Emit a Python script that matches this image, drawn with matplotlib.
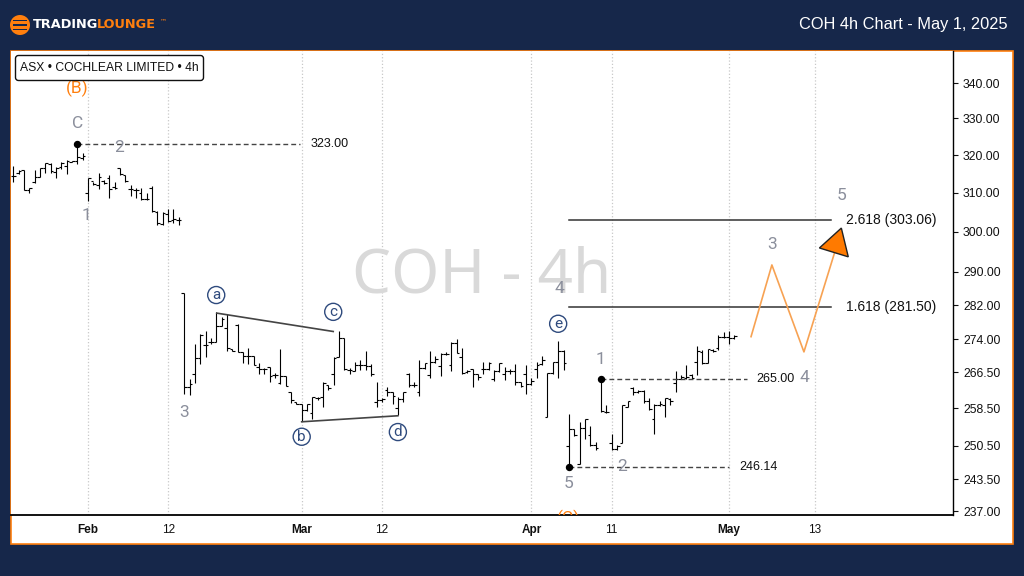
import matplotlib
matplotlib.use('Agg')
import matplotlib.pyplot as plt
from matplotlib.patches import Circle, FancyBboxPatch, Polygon, Rectangle
from matplotlib.transforms import Bbox

plt.rcParams['font.family'] = ['Liberation Sans', 'DejaVu Sans']

NAVY = '#16274a'
ORANGE = '#ff7f0e'
GREY = '#8b8f9c'
CIRCLE = '#2e4a7d'

# 4h bars, index 0 is the Feb tick
first_bar = -14
highs = [317.1, 316, 315.9, 311.3, 316, 316.5, 317.9, 317.9, 316.8, 318.1,
         318.6, 318.5, 323, 320.5, 313.9, 312.7, 315.3, 313.4, 314.7, 312.7,
         316.5, 314.7, 312, 311.3, 311.2, 310, 311.8, 305.2, 305, 305.8,
         305.8, 303.8, 285, 264.9, 272.8, 275.2, 276, 274.2, 280.3, 279.3,
         279.9, 271.8, 277.5, 271, 272, 270.2, 268.5, 267.5, 267.7, 266.4,
         271.8, 265.6, 262.2, 260, 259.4, 259.4, 261, 261, 264.4, 263.7,
         269.9, 275.8, 274.4, 267.4, 268.9, 269.2, 271.3, 268.4, 264.3, 260.8,
         263.2, 262, 261, 262, 266.4, 264.3, 269.3, 268.5, 271.4, 270.2,
         270.9, 271, 273.4, 274, 272, 267, 267.3, 266, 268.9, 268.9,
         267.1, 268.5, 267.6, 267.3, 268.4, 264.4, 268.1, 265.3, 268.8, 270.2,
         266.3, 268.7, 273.5, 271.5, 257.2, 254.1, 255.5, 256.3, 254.7, 251.2,
         265, 259.2, 252.9, 250.7, 259.2, 260.2, 263.3, 262.6, 262.5, 260.8,
         259.4, 260.1, 260.8, 260.8, 266.7, 265.9, 268.1, 266, 272.4, 271.5,
         271.7, 271.8, 274.9, 275.6, 276, 274.9]
lows = [312.9, 315, 310.6, 310, 312.6, 314.2, 315.2, 315.3, 313.9, 316.3,
        315, 318, 317.7, 318.6, 307.8, 312, 310.9, 312.3, 308.6, 311,
        314.7, 312.9, 309.1, 308.7, 308.1, 308, 305, 301.8, 301.6, 302.5,
        302.3, 301.6, 261.7, 261.4, 264, 268.4, 269.9, 272.8, 273.4, 277,
        271.4, 271.3, 271, 268.5, 268.4, 268.1, 266, 266.2, 264.4, 265.3,
        263.9, 263.5, 259.7, 259.4, 255.8, 257.9, 256.1, 260.4, 258.8, 262.6,
        263.7, 269.9, 267.1, 266, 266.7, 267.1, 267, 265.6, 258.8, 260,
        261.2, 259.4, 257, 260, 263.3, 263.2, 261.2, 267.3, 265.1, 268.5,
        265.7, 270.3, 266.8, 270.9, 266.1, 266.4, 263.2, 264.8, 266, 267,
        264.6, 266.6, 264.8, 266.2, 263.7, 263.3, 261.7, 263.7, 265.3, 268.1,
        256.6, 266.2, 265.1, 267.1, 246.14, 252.5, 246.7, 251.9, 250.4, 249.5,
        257.7, 257.4, 249.5, 249.6, 251.1, 258.7, 261.4, 261.9, 259.7, 258.1,
        252.9, 259, 256.6, 259.2, 262.2, 264.9, 264.9, 264.9, 265.9, 268.4,
        268.5, 271, 271.5, 274.2, 272.8, 274]
opens = [314.5, 315.2, 315.9, 310.6, 312.8, 314.2, 316.4, 317.5, 315.5, 316.8,
         317, 318.2, 318.4, 319.3, 309.9, 313, 312, 313.2, 313.8, 311.5,
         316.4, 314.7, 311, 310.8, 309.8, 308.4, 311.2, 305, 301.9, 304.5,
         303, 303, 284.9, 263.2, 266.2, 269.7, 272.6, 273.4, 273.4, 277,
         276.7, 271.8, 277.4, 271, 270.2, 270.2, 267.7, 267.2, 267.7, 265.9,
         264, 265.6, 262.2, 260, 259.4, 258.1, 257.6, 260.8, 260.9, 263.7,
         266.2, 269.9, 274.2, 267.1, 266.7, 268.1, 268.1, 268, 260, 260.3,
         262.6, 262, 258.6, 260.6, 266.2, 263.7, 262.2, 267.5, 265.9, 268.9,
         267.9, 270.6, 268.1, 273.2, 269.9, 266.6, 267.3, 266.1, 267.3, 267.3,
         264.9, 266.8, 266.2, 266.8, 266.8, 264.4, 266.2, 263.9, 267.3, 268.4,
         256.6, 266.3, 268.7, 271.3, 250.4, 254, 246.7, 254.3, 252.7, 250.7,
         264.9, 257.8, 251.1, 249.8, 251.1, 258.9, 263, 262.1, 262.4, 260.1,
         256.3, 259.2, 259.2, 260.6, 264, 265, 265.3, 265.9, 268.8, 271,
         268.5, 271.5, 271.9, 274.6, 274.6, 274.2]
closes = [314.5, 315.6, 310.7, 311.2, 314, 316.4, 317.8, 315.8, 316.5, 317.9,
          318.5, 318.5, 319.5, 319.8, 313.8, 312.2, 314, 312.5, 311, 311.3,
          314.8, 313, 311, 310.8, 308.4, 308.3, 305.2, 302.2, 304.8, 302.8,
          303.2, 303, 263.2, 263.9, 269.7, 275.1, 272.6, 273.4, 277, 278.7,
          272, 271.4, 271, 270.2, 270.2, 268.1, 267.2, 267.2, 265.6, 265.9,
          265.6, 263.5, 260.3, 259.5, 258.1, 259.4, 260.9, 260.8, 264.2, 263,
          269.7, 274.4, 267.3, 267, 268.1, 268.1, 268, 266, 260.3, 260.6,
          262.1, 261.2, 260.6, 262, 263.7, 263.7, 267.5, 268.5, 268.9, 269.5,
          270.6, 270.6, 273.2, 270.9, 266.4, 266.7, 266.1, 265.5, 267.3, 268.5,
          266.8, 268.5, 266.8, 266.8, 264.4, 263.4, 263.9, 264.6, 268.1, 269.3,
          266.3, 268.7, 271.3, 268.5, 254, 252.7, 254.3, 256.1, 250.7, 250,
          257.9, 257.8, 249.8, 250.4, 259.2, 260.1, 262.1, 262.4, 260.1, 258.4,
          259.2, 259.4, 260.8, 260.2, 265, 265.5, 265.5, 265.1, 271.4, 268.5,
          271.7, 271.4, 274.6, 274.6, 274.2, 274.8]

y_ticks = [340, 330, 320, 310, 300, 290, 282, 274, 266.5, 258.5, 250.5, 243.5, 237]
x_ticks = [0, 15, 40, 55, 83, 98, 120, 136]
x_labels = ['Feb', '12', 'Mar', '12', 'Apr', '11', 'May', '13']
months = ['Feb', 'Mar', 'Apr', 'May']

# wave counts: label, bar index, price
grey_waves = [('C', -2, 328.5), ('2', 5.8, 321.9), ('1', -0.2, 304), ('3', 18, 257.5),
              ('4', 88.2, 285.9), ('1', 96, 269.3), ('2', 100, 246.1), ('5', 89.9, 242.6),
              ('3', 128, 296.7), ('4', 134, 265.4), ('5', 141.1, 309.2)]
circled_waves = [('a', 24, 284.4), ('b', 40, 252.4), ('c', 45.9, 280.4),
                 ('d', 58, 253.4), ('e', 88, 277.6)]
orange_waves = [('(B)', -2, 338.6), ('(C)', 89.9, 235.6)]

# price levels: bar start, bar end, price, text, text start
dashed_levels = [(-2, 39.7, 323, '323.00', 41.7),
                 (96, 123.4, 265, '265.00', 125),
                 (90, 120, 246.14, '246.14', 121.9)]
fib_levels = [(303.06, '2.618 (303.06)'), (281.5, '1.618 (281.50)')]
fib_start, fib_end, fib_text_x = 90, 139.1, 141.9

triangle_lines = [([24.1, 45.9], [280.1, 275.8]), ([40, 58], [255.6, 256.9])]
path_x = [124.1, 128, 134, 139.8]
path_y = [274.6, 291.7, 271.1, 295]
arrow = [(141, 300.9), (136.9, 295.9), (142.3, 293.7)]

fig = plt.figure(figsize=(10.24, 5.76), dpi=100, facecolor=NAVY)

# header and white panel, in pixels
bg = fig.add_axes([0, 0, 1, 1])
bg.set_xlim(0, 1024)
bg.set_ylim(576, 0)
bg.axis('off')
bg.add_patch(Rectangle((10.5, 50.5), 1002, 493, fc='white', ec=ORANGE, lw=1.2))
bg.add_patch(Circle((20, 25), 10, fc=ORANGE, ec='none'))
for stripe_y in (20.5, 25, 29.5):
    bg.add_patch(Rectangle((13, stripe_y - 0.8), 14, 1.6, fc=NAVY, ec='none'))
bg.text(33, 25, 'TRADING', color='white', fontsize=9.3, fontweight='bold',
        family='DejaVu Sans', va='center')
bg.text(97, 25, 'LOUNGE', color=ORANGE, fontsize=9.3, fontweight='bold',
        family='DejaVu Sans', va='center')
bg.text(160, 21.5, '™', color=ORANGE, fontsize=5, family='DejaVu Sans', va='center')
bg.text(1008, 24, 'COH 4h Chart - May 1, 2025', color='white', fontsize=11.8,
        ha='right', va='center')

ax = fig.add_axes([11 / 1024, 61 / 576, 942 / 1024, 464 / 576])
ax.set_facecolor('white')
ax.set_yscale('log')
ax.set_xlim(-14.41, 161.9)
ax.set_ylim(236.3, 349.3)

ax.set_yticks(y_ticks)
ax.set_yticklabels(['%.2f' % v for v in y_ticks], fontsize=8.8)
ax.minorticks_off()
ax.yaxis.tick_right()
ax.tick_params(axis='y', length=3.6, width=0.8, pad=3.6, colors='#111111')
ax.set_xticks(x_ticks)
ax.set_xticklabels(x_labels, fontsize=8.5)
ax.tick_params(axis='x', length=0, pad=11, colors='#111111')
for label in ax.get_xticklabels():
    label.set_va('center')
    if label.get_text() in months:
        label.set_fontweight('bold')
ax.grid(axis='x', color='#c8c8c8', linestyle=':', linewidth=0.9)
ax.set_axisbelow(True)

for side in ('top', 'left'):
    ax.spines[side].set_visible(False)
ax.spines['bottom'].set_linewidth(1.3)
ax.spines['right'].set_linewidth(1.0)

# bottom label is cut by the axis edge
for label in ax.get_yticklabels():
    if label.get_text() == '237.00':
        label.set_clip_on(True)
        label.set_clip_box(Bbox([[953, 60], [1012, 72]]))

ax.text(0.5, 0.514, 'COH - 4h', transform=ax.transAxes, color='#d9d9d9', fontsize=44.6,
        family='Noto Sans', ha='center', va='center', zorder=1)

# OHLC bars
xs = list(range(first_bar, first_bar + len(highs)))
ax.vlines(xs, lows, highs, color='black', lw=0.8, zorder=3)
ax.hlines(opens, [x - 0.5 for x in xs], xs, color='black', lw=0.8, zorder=3)
ax.hlines(closes, xs, [x + 0.5 for x in xs], color='black', lw=0.8, zorder=3)

for x0, x1, price, text, text_x in dashed_levels:
    ax.plot([x0, x1], [price, price], color='#444444', lw=1.0, ls=(0, (3.5, 2.2)), zorder=3)
    ax.plot([x0], [price], 'o', color='black', ms=4.3, zorder=4)
    ax.text(text_x, price, text, fontsize=9, color='#111111', va='center')

for price, text in fib_levels:
    ax.plot([fib_start, fib_end], [price, price], color='#333333', lw=1.1, zorder=3)
    ax.text(fib_text_x, price, text, fontsize=10, color='#111111', va='center')

for line_x, line_y in triangle_lines:
    ax.plot(line_x, line_y, color='#444444', lw=1.2, zorder=3)

ax.plot(path_x, path_y, color='#f7a253', lw=1.2, zorder=4)
ax.add_patch(Polygon(arrow, closed=True, fc='#ff7a00', ec='#222222', lw=1, zorder=5))

for text, x, y in grey_waves:
    ax.text(x, y, text, color=GREY, fontsize=12.5, family='Roboto', ha='center', va='center', zorder=5)
for text, x, y in circled_waves:
    ax.text(x, y, text, color=CIRCLE, fontsize=11, family='Roboto', ha='center', va='center', zorder=5,
            bbox=dict(boxstyle='circle,pad=0.1', fc='white', ec=CIRCLE, lw=1))
for text, x, y in orange_waves:
    ax.text(x, y, text, color=ORANGE, fontsize=12.5, family='Roboto', ha='center', va='center',
            clip_on=True, zorder=5)

# symbol box on top of the chart
top = fig.add_axes([0, 0, 1, 1])
top.set_xlim(0, 1024)
top.set_ylim(576, 0)
top.axis('off')
top.patch.set_alpha(0)
top.add_patch(FancyBboxPatch((17, 57), 185, 22, boxstyle='round,pad=1.5,rounding_size=3',
                             fc='white', ec='#111111', lw=1))
top.text(20, 68, 'ASX • COCHLEAR LIMITED • 4h', fontsize=8.75, color='#111111', va='center')

plt.savefig('out.png', dpi=100, facecolor=NAVY)
